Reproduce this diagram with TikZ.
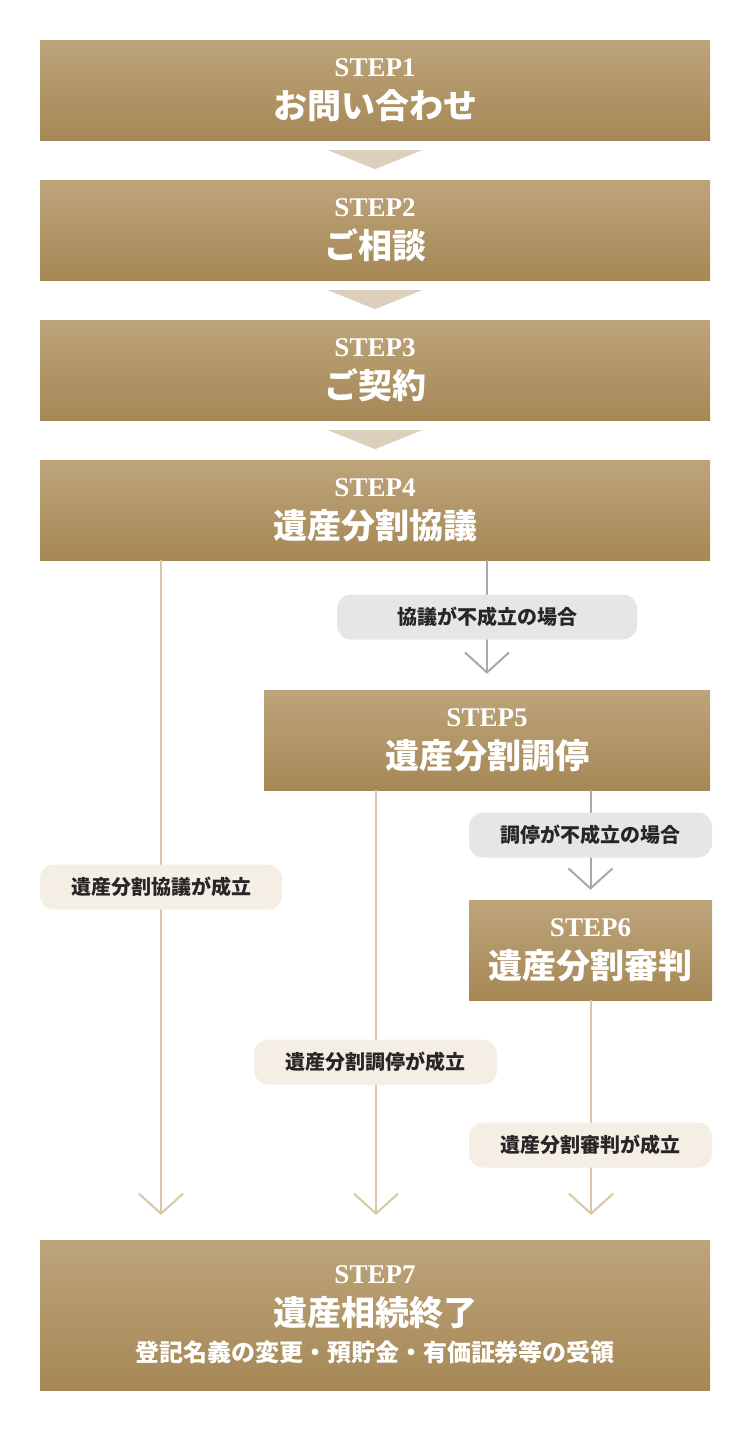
\documentclass[tikz,border=0pt]{standalone}
\usepackage{fontspec}
\setmainfont{Liberation Serif}
\newfontfamily\jp{Noto Sans CJK JP}
\usetikzlibrary{arrows.meta,calc,positioning}
\definecolor{goldtop}{HTML}{BDA47A}
\definecolor{goldbot}{HTML}{A68856}
\definecolor{tanline}{HTML}{D9C7A6}
\definecolor{tanpill}{HTML}{F5EEE4}
\definecolor{greyline}{HTML}{A8A8A8}
\definecolor{greypill}{HTML}{E6E6E6}
\definecolor{tri}{HTML}{DCD0BC}
\newcommand{\stxt}[2]{{\bfseries\fontsize{27}{30}\selectfont #1}\\{\jp\bfseries\fontsize{34}{42}\selectfont #2}}

\begin{document}
\begin{tikzpicture}[x=1pt,y=1pt,
    stepbox/.style={rectangle,top color=goldtop,bottom color=goldbot,text=white,
      align=center,inner sep=0pt,minimum height=100pt,font=\fontsize{34}{42}\selectfont},
    pill/.style={rounded corners=14pt,fill=tanpill,minimum height=45pt,
      font=\jp\bfseries\fontsize{20}{24}\selectfont,text=black!85},
    greypill/.style={pill,fill=greypill},
    tanarrow/.style={draw=tanline,line width=2pt,-{Straight Barb[length=20pt,width=44pt,line width=2pt]}},
    greyarrow/.style={draw=greyline,line width=2pt,-{Straight Barb[length=20pt,width=44pt,line width=2pt]}}]
  \useasboundingbox (0,0) rectangle (750,-1430);

  % Boxes
  \node[stepbox,minimum width=670pt] (s1) at (375,-90) {\stxt{STEP1}{お問い合わせ}};
  \node[stepbox,minimum width=670pt] (s2) at (375,-230) {\stxt{STEP2}{ご相談}};
  \node[stepbox,minimum width=670pt] (s3) at (375,-370) {\stxt{STEP3}{ご契約}};
  \node[stepbox,minimum width=670pt] (s4) at (375,-510) {\stxt{STEP4}{遺産分割協議}};
  \node[stepbox,minimum width=446pt] (s5) at (487,-740) {\stxt{STEP5}{遺産分割調停}};
  \node[stepbox,minimum width=243pt] (s6) at (590.5,-950) {\stxt{STEP6}{遺産分割審判}};
  \node[stepbox,minimum width=670pt,minimum height=150pt] (s7) at (375,-1315)
    {\stxt{STEP7}{遺産相続終了}\\[-6pt]{\jp\bfseries\fontsize{24}{28}\selectfont 登記名義の変更・預貯金・有価証券等の受領}};

  % Triangles
  \foreach \a in {s1,s2,s3}
    \fill[tri] ($(\a.south)+(-47,-10)$) -- ($(\a.south)+(47,-10)$) -- ($(\a.south)+(0,-29)$) -- cycle;

  % Edges
  \coordinate (e1) at (161,-1215);
  \coordinate (e2) at (376,-1215);
  \coordinate (e3) at (591,-1215);
  \draw[tanarrow] (s4.south -| e1) -- (e1);
  \draw[tanarrow] (s5.south -| e2) -- (e2);
  \draw[tanarrow] (s6.south -| e3) -- (e3);
  \draw[greyarrow] (s4.south -| s5.north) -- ([yshift=16pt]s5.north);
  \draw[greyarrow] (s5.south -| s6.north) -- ([yshift=10pt]s6.north);

  % Labels
  \node[greypill,minimum width=300pt] (g1) at (487,-617) {協議が不成立の場合};
  \node[greypill,minimum width=243pt] (g2) at (590.5,-835) {調停が不成立の場合};
  \node[pill,minimum width=242pt] (p1) at (161,-887) {遺産分割協議が成立};
  \node[pill,minimum width=243pt] (p2) at (375.5,-1062) {遺産分割調停が成立};
  \node[pill,minimum width=243pt] (p3) at (590.5,-1145) {遺産分割審判が成立};
\end{tikzpicture}
\end{document}
